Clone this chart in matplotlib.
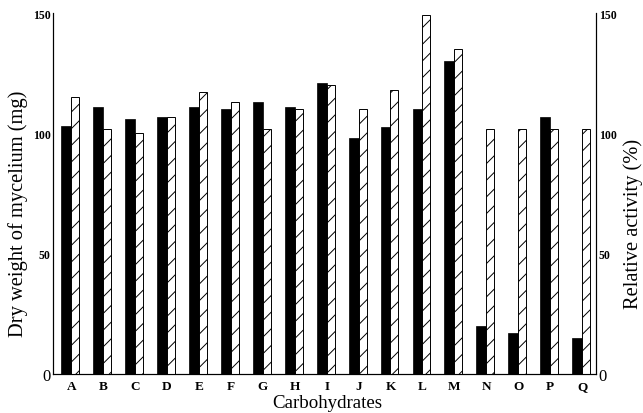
import matplotlib
matplotlib.use("Agg")
import matplotlib.pyplot as plt
import numpy as np

plt.rcParams['font.family'] = ['Liberation Serif', 'DejaVu Serif']
plt.rcParams['hatch.linewidth'] = 0.7

categories = ["A", "B", "C", "D", "E", "F", "G", "H", "I", "J", "K", "L", "M", "N", "O", "P", "Q"]
dry_weight = [103, 111, 106, 107, 111, 110, 113, 111, 121, 98, 102.5, 110, 130, 20, 17, 107, 15]
relative_activity = [115, 102, 100, 107, 117, 113, 102, 110, 120, 110, 118, 149, 135, 102, 102, 102, 102]
y_ticks = [0, 50, 100, 150]

W, H = 643, 414
fig = plt.figure(figsize=(6.43, 4.14), dpi=100)
ax = fig.add_axes([0.083, 0.094, 0.844, 0.872])
ax2 = ax.twinx()

x = np.arange(len(categories))
w1 = 0.31
w2 = 0.25
ax.bar(x - w1 / 2, dry_weight, width=w1, color='black', edgecolor='black', linewidth=0.5)
ax2.bar(x + w2 / 2, relative_activity, width=w2, color='white', edgecolor='black',
        hatch='//', linewidth=0.7)

for a in (ax, ax2):
    a.set_ylim(0, 150)
    a.set_xlim(-0.56, len(categories) - 1 + 0.44)
    a.spines['top'].set_visible(False)
    a.spines['left'].set_linewidth(0.8)
    a.spines['right'].set_linewidth(0.8)
    a.spines['bottom'].set_linewidth(0.8)
    a.set_yticks(y_ticks)
    a.tick_params(axis='y', length=0, pad=2)
    a.tick_params(axis='x', length=0, pad=4)

ax.set_xticks(x)
ax.set_xticklabels(categories, fontsize=9.5, fontweight='bold')
ax.set_yticklabels(["0", "50", "100", "150"], fontsize=8.5, fontweight='bold')
ax2.set_yticklabels(["0", "50", "100", "150"], fontsize=8.5, fontweight='bold')
for a in (ax, ax2):
    lbl = a.get_yticklabels()[0]
    lbl.set_fontsize(12)
    lbl.set_fontweight('normal')

fig.text(327 / W, 1 - 404 / H, "Carbohydrates", fontsize=13.6, ha='center', va='center')
fig.text(18 / W, 1 - 214 / H, "Dry weight of mycelium (mg)", fontsize=14.8,
         rotation=90, ha='center', va='center')
fig.text(633 / W, 1 - 224 / H, "Relative activity (%)", fontsize=14.8,
         rotation=90, ha='center', va='center')

fig.savefig("out.png", dpi=100)
